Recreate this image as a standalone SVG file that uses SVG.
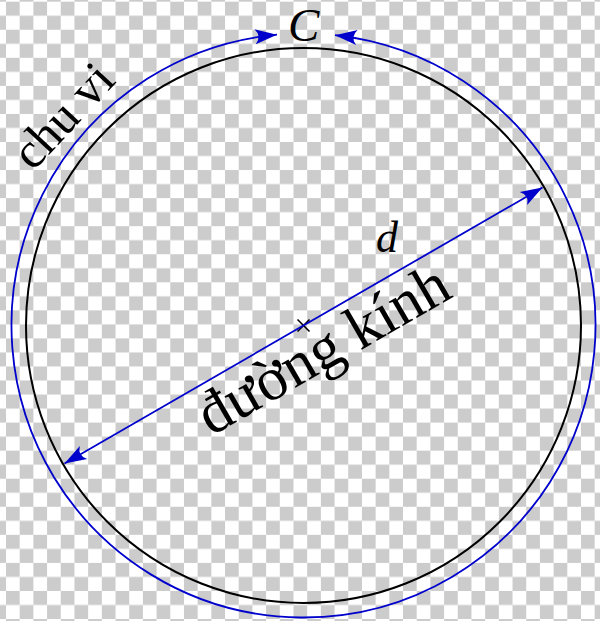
<svg xmlns="http://www.w3.org/2000/svg" width="600" height="621" viewBox="0 0 600 621">
<style>
.blue{fill:none;stroke:#0000cc;stroke-width:1.8}
.black{fill:none;stroke:#000;stroke-width:2}
.lbl{font-family:"Liberation Serif","Times New Roman",serif;fill:#000}
.it{font-style:italic}
</style>
<defs>
<pattern id="checker" patternUnits="userSpaceOnUse" x="6" y="1.7" width="27.38" height="28.06">
<rect width="27.38" height="28.06" fill="#fff"/>
<rect width="13.69" height="14.03" fill="#cccccc"/>
<rect x="13.69" y="14.03" width="13.69" height="14.03" fill="#cccccc"/>
</pattern>
<marker id="arr" markerUnits="userSpaceOnUse" viewBox="-23 -9 24 18" refX="0" refY="0" markerWidth="24" markerHeight="18" orient="auto-start-reverse">
<path d="M0,0 L-22,-7.5 Q-15,0 -22,7.5 Z" fill="#0000cc"/>
</marker>
</defs>
<rect width="600" height="621" fill="url(#checker)"/>
<g id="circle">
<circle class="black" cx="303.5" cy="325.5" r="277.5"/>
</g>
<g id="center">
<line x1="297.5" y1="319.5" x2="309.5" y2="331.5" stroke="#000" stroke-width="1.6"/>
<line x1="297.5" y1="331.5" x2="309.5" y2="319.5" stroke="#000" stroke-width="1.6"/>
</g>
<g id="connectors">
<path id="perimeter" class="blue" d="M277,34.7 A292,292 0 1 0 335,35.2" marker-start="url(#arr)" marker-end="url(#arr)"/>
<line id="diameter" class="blue" x1="64.5" y1="463.5" x2="542.5" y2="187.5" marker-start="url(#arr)" marker-end="url(#arr)"/>
</g>
<g id="label-C"><text class="lbl it" x="288" y="41" font-size="47">C</text></g>
<g id="label-d"><text class="lbl it" x="376" y="252" font-size="44">d</text></g>
<g id="label-chuvi"><text class="lbl" font-size="50" transform="translate(33,172) rotate(-47)">chu vi</text></g>
<g id="label-duongkinh"><text class="lbl" font-size="61" text-anchor="middle" transform="translate(303.5,325.5) rotate(-30)" x="5" y="50">đường kính</text></g>
</svg>
